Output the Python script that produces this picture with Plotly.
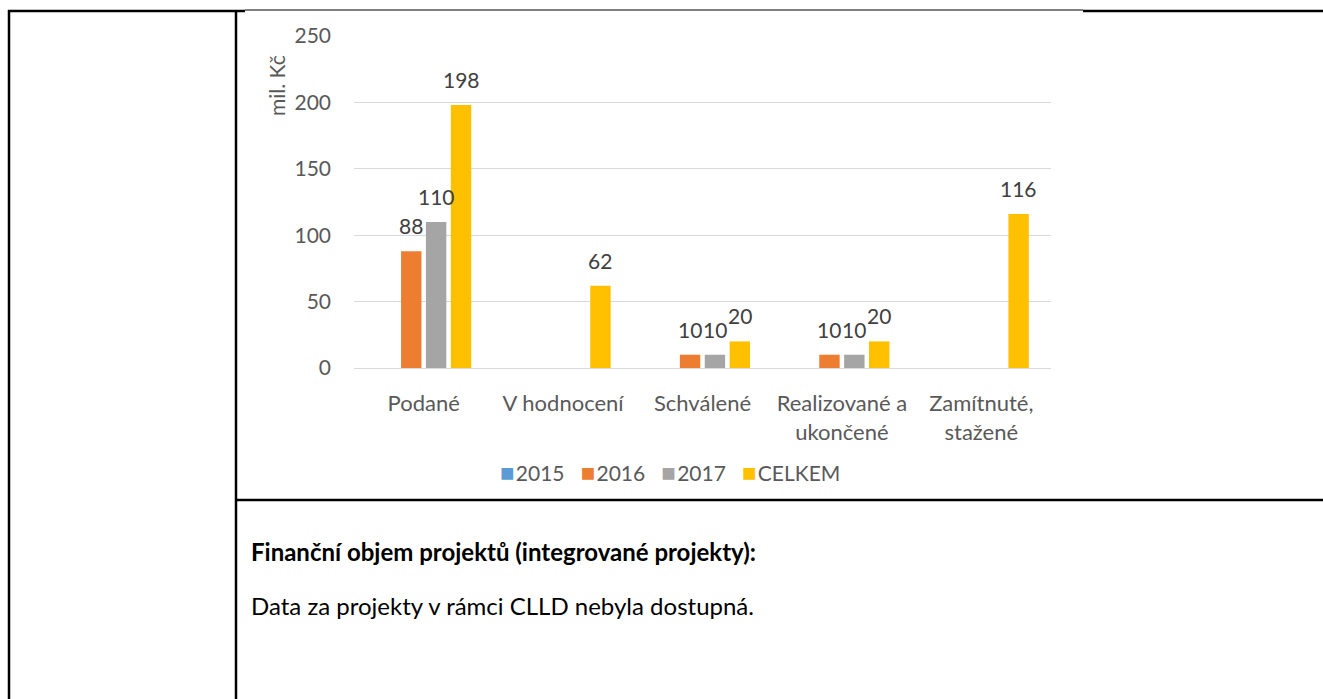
import plotly.graph_objects as go

categories = ["Podané", "V hodnocení", "Schválené", "Realizované a<br>ukončené", "Zamítnuté,<br>stažené"]
series_names = ["2015", "2016", "2017", "CELKEM"]
v2015 = [None, None, None, None, None]
v2016 = [88, None, 10, 10, None]
v2017 = [110, None, 10, 10, None]
vcelkem = [198, 62, 20, 20, 116]
colors = ["#5B9BD5", "#ED7D31", "#A5A5A5", "#FFC000"]
y_ticks = [0, 50, 100, 150, 200, 250]

W, H = 1323, 699
ML, MR, MT, MB = 354, 272, 36, 331
PW, PH = W - ML - MR, H - MT - MB
BARGAP, GROUPGAP = 0.286, 0.18

def px(x):
    return (x - ML) / PW

def py(y):
    return (H - MB - y) / PH

FONT = "Lato, Calibri, sans-serif"
TXT = "#595959"
FS = 21

all_series = [v2015, v2016, v2017, vcelkem]

fig = go.Figure()
for name, vals, col in zip(series_names, all_series, colors):
    fig.add_trace(go.Bar(name=name, x=categories, y=vals, marker_color=col, marker_line_width=0))

# data labels above bars
nser = len(all_series)
slot = (PW / len(categories)) * (1 - BARGAP) / nser
for i, vals in enumerate(all_series):
    for cat, v in zip(categories, vals):
        if v is None:
            continue
        fig.add_annotation(x=cat, y=v, xref="x", yref="y", text=str(v), showarrow=False,
                           xanchor="center", yanchor="bottom",
                           xshift=(i - (nser - 1) / 2) * slot, yshift=11,
                           font=dict(family=FONT, size=FS, color="#404040"))

fig.update_layout(
    width=W, height=H,
    margin=dict(l=ML, r=MR, t=MT, b=MB, pad=0),
    paper_bgcolor="white", plot_bgcolor="white",
    barmode="group", bargap=BARGAP, bargroupgap=GROUPGAP,
    font=dict(family=FONT, size=FS, color=TXT),
    showlegend=False,
)
fig.update_xaxes(showgrid=False, showline=False, ticks="", ticklabelstandoff=20,
                 tickfont=dict(family=FONT, size=22, color=TXT))
fig.update_yaxes(range=[0, 250], tickvals=y_ticks, showgrid=True, gridcolor="#D9D9D9", gridwidth=1,
                 zeroline=True, zerolinecolor="#D9D9D9", zerolinewidth=1, showline=False, ticks="",
                 ticklabelstandoff=22,
                 tickfont=dict(family=FONT, size=FS, color=TXT))

fig.add_annotation(text="mil. Kč", textangle=-90, xref="paper", yref="paper",
                   x=px(276), y=py(86), xanchor="center", yanchor="middle", showarrow=False,
                   font=dict(family=FONT, size=FS, color=TXT))

# legend (Excel-style compact)
legend_html = "&nbsp;&nbsp;&nbsp;".join(
    f"<span style='color:{c};font-size:24px'>■</span>&#8202;{n}" for n, c in zip(series_names, colors)
)
fig.add_annotation(text=legend_html, xref="paper", yref="paper",
                   x=px(670), y=py(472), xanchor="center", yanchor="middle", showarrow=False,
                   font=dict(family=FONT, size=21, color=TXT))

fig.add_annotation(text="<b>Finanční objem projektů (integrované projekty):</b>", xref="paper", yref="paper",
                   x=px(249), y=py(551), xanchor="left", yanchor="middle", showarrow=False,
                   font=dict(family=FONT, size=24, color="#000000"))
fig.add_annotation(text="Data za projekty v rámci CLLD nebyla dostupná.", xref="paper", yref="paper",
                   x=px(249), y=py(605), xanchor="left", yanchor="middle", showarrow=False,
                   font=dict(family=FONT, size=24, color="#000000"))

def hline(x0, x1, y, w):
    fig.add_shape(type="line", xref="paper", yref="paper", x0=px(x0), x1=px(x1), y0=py(y), y1=py(y),
                  line=dict(color="black", width=w))

def vline(x, y0, y1, w):
    fig.add_shape(type="line", xref="paper", yref="paper", x0=px(x), x1=px(x), y0=py(y0), y1=py(y1),
                  line=dict(color="black", width=w))

hline(8, 245, 11, 2.5)
hline(245, 1083, 10, 1)
hline(1083, 1323, 11, 2.5)
vline(9, 10, 699, 2.5)
vline(236, 10, 699, 2.5)
hline(236, 1323, 500, 2.5)

fig.write_html("out.html", config={"displayModeBar": False},
               post_script="document.body.style.margin='0';document.body.style.overflow='hidden';")
